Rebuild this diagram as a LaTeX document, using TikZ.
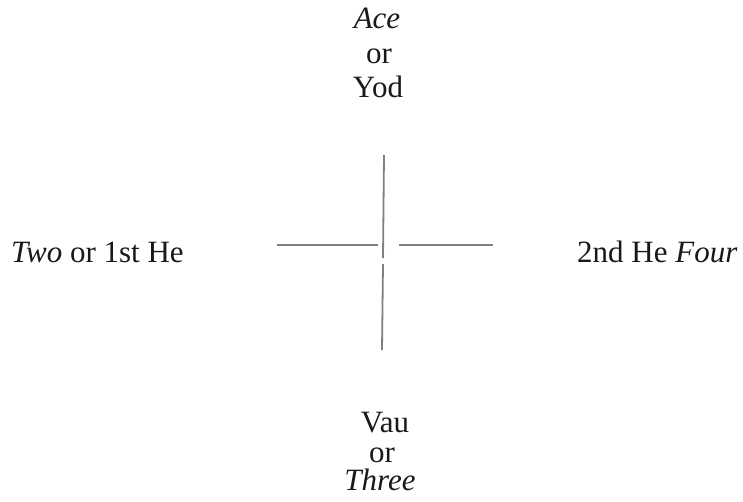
\documentclass[tikz,border=0pt]{standalone}
\usepackage{fontspec}
\setmainfont{Liberation Serif}
\begin{document}
\begin{tikzpicture}[x=1pt,y=-1pt,
  lbl/.style={inner sep=0pt,anchor=base,font=\fontsize{31}{35}\selectfont,text=black!90},
  crossline/.style={draw=black!50,line width=1.8pt}]
\useasboundingbox[fill=white] (0,0) rectangle (743,501);
% top
\node[lbl] (ace) at (377,28) {\textit{Ace}};
\node[lbl] (or1) at (379,63) {or};
\node[lbl] (yod) at (378,97) {Yod};
% left / right
\node[lbl,anchor=base west] (two) at (11,262) {\textit{Two} or 1st He};
\node[lbl,anchor=base west] (four) at (577,262) {2nd He \textit{Four}};
% bottom
\node[lbl] (vau) at (385,432) {Vau};
\node[lbl] (or2) at (382,462) {or};
\node[lbl] (three) at (380,490) {\textit{Three}};
% cross
\coordinate (vt) at (384,155);
\coordinate (vm1) at (383,258);
\coordinate (vm2) at (383,264);
\coordinate (vb) at (382,350);
\coordinate (hl1) at (277,245);
\coordinate (hl2) at (378,245);
\coordinate (hr1) at (399,245);
\coordinate (hr2) at (493,245);
\draw[crossline] (vt) -- (vm1);
\draw[crossline] (vm2) -- (vb);
\draw[crossline] (hl1) -- (hl2);
\draw[crossline] (hr1) -- (hr2);
\end{tikzpicture}
\end{document}
